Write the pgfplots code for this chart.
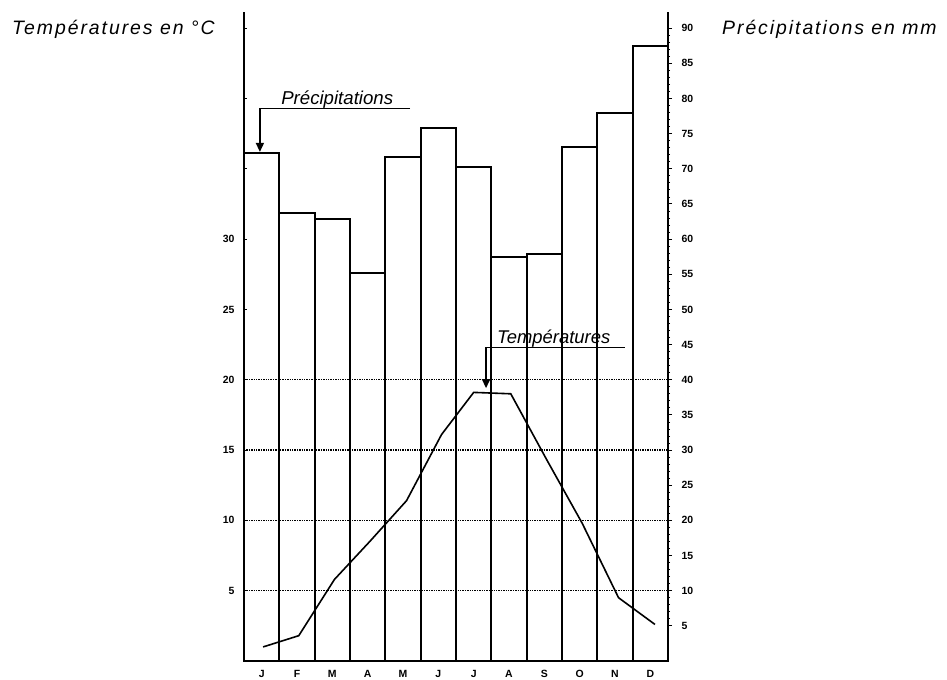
\documentclass[border=0pt]{standalone}
\usepackage{fontspec}
\setmainfont{Liberation Sans}
\usepackage{pgfplots}
\pgfplotsset{compat=1.18}
\usetikzlibrary{arrows.meta}

\begin{document}
\begin{tikzpicture}[x=1bp,y=1bp]
\useasboundingbox (0,0) rectangle (947,680);

\pgfplotsset{
  every axis/.append style={
    at={(244bp,19bp)}, anchor=south west,
    width=424bp, height=649bp, scale only axis,
    xmin=0, xmax=12, clip=false,
    /pgf/number format/assume math mode=true,
    tick label style={font=\fontsize{10.5}{12}\selectfont\bfseries},
    axis line style={line width=2bp},
    major tick style={black, line width=1bp},
    minor tick style={black, line width=0.8bp},
  },
}

% Precipitations (right axis)
\begin{axis}[
  ymin=0, ymax=92.3,
  axis y line*=right, axis x line*=bottom,
  ytick={5,10,...,90},
  minor y tick num=4,
  tick align=outside,
  major tick length=4bp, minor tick length=2bp,
  yticklabel style={anchor=west, xshift=6bp},
  xtick={0.5,1.5,...,11.5},
  xticklabels={J,F,M,A,M,J,J,A,S,O,N,D},
  x tick style={draw=none},
  xticklabel style={yshift=-2bp},
]
\addplot[ybar interval, draw=black, fill=none, line width=2bp] coordinates {
  (0,72.3) (1,63.7) (2,62.8) (3,55.2) (4,71.7) (5,75.8)
  (6,70.3) (7,57.5) (8,57.9) (9,73.1) (10,78.0) (11,87.4) (12,87.4)
};
\end{axis}

% Temperatures (left axis)
\begin{axis}[
  ymin=0, ymax=46.15,
  axis y line*=left, axis x line=none,
  ytick={5,10,...,45},
  yticklabels={5,10,15,20,25,30,,,},
  tick align=inside, major tick length=3bp,
  yticklabel style={anchor=east, xshift=-6bp},
  extra y ticks={5,10,15,20},
  extra y tick labels={},
  extra y tick style={grid=major,
    major grid style={black, line width=1.3bp, dash pattern=on 1.4bp off 1bp}},
]
\addplot[black, line width=1.6bp] coordinates {
  (0.54,1.0) (1.55,1.8) (2.56,5.8) (3.56,8.5) (4.6,11.4) (5.59,16.1)
  (6.5,19.1) (7.55,19.0) (8.57,14.3) (9.57,9.8) (10.6,4.5) (11.63,2.6)
};

\draw[line width=1.5bp, -{Triangle[width=8bp,length=9bp]}]
  (axis cs:4.7,39.3) -- (axis cs:0.45,39.3) -- (axis cs:0.45,36.2);
\node[anchor=base west, inner sep=0, font=\fontsize{18.7}{20}\selectfont\itshape]
  at (axis cs:1.05,39.6) {Précipitations};

\draw[line width=1.5bp, -{Triangle[width=8bp,length=9bp]}]
  (axis cs:10.78,22.3) -- (axis cs:6.85,22.3) -- (axis cs:6.85,19.4);
\node[anchor=base west, inner sep=0, font=\fontsize{18.5}{20}\selectfont\itshape]
  at (axis cs:7.16,22.6) {Températures};
\end{axis}

\node[anchor=base west, inner sep=0,
  font=\fontsize{19.5}{22}\selectfont\itshape\addfontfeature{LetterSpace=10}]
  at (12,645) {Températures en °C};
\node[anchor=base west, inner sep=0,
  font=\fontsize{19.5}{22}\selectfont\itshape\addfontfeature{LetterSpace=10}]
  at (722,645) {Précipitations en mm};
\end{tikzpicture}
\end{document}
